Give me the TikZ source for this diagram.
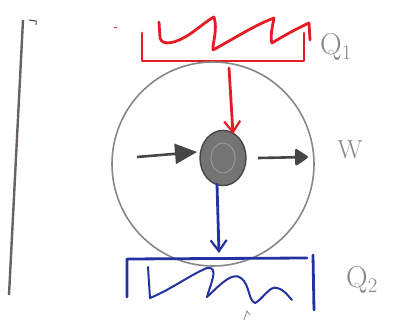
\documentclass[tikz,border=0pt]{standalone}
\usetikzlibrary{arrows.meta}
\definecolor{hotred}{RGB}{228,28,38}
\definecolor{coldblue}{RGB}{35,50,160}
\definecolor{pencil}{RGB}{135,135,135}
\definecolor{darkpencil}{RGB}{70,70,70}
\definecolor{axiscol}{RGB}{105,95,110}
\tikzset{
  hot/.style={draw=hotred, line width=2.8pt, line cap=round, line join=round},
  cold/.style={draw=coldblue, line width=2.8pt, line cap=round, line join=round},
  pencilline/.style={draw=pencil, line width=1.6pt},
  label/.style={text=pencil, font=\fontsize{30}{30}\selectfont, inner sep=0pt},
}
\begin{document}
\begin{tikzpicture}[x=1pt,y=-1pt]
\useasboundingbox (0,0) rectangle (397,332);
% left axis line
\coordinate (axtop) at (23,20);
\coordinate (axbot) at (9,295);
\draw[draw=axiscol, line width=2.4pt] (axtop) -- (axbot);
\draw[darkpencil, line width=1pt] (29,20) -- (36,21) -- (36,25);
% hot reservoir
\draw[hot] (142,33) -- (142,61) -- (304,61) -- (304,33);
\draw[hot] (159,22) -- (160,38) .. controls (162,46) and (175,44) .. (190,34)
  .. controls (200,27) and (208,20) .. (214,17)
  .. controls (218,30) and (212,45) .. (213,50)
  .. controls (235,38) and (255,25) .. (274,18)
  .. controls (272,28) and (270,38) .. (272,43)
  .. controls (285,35) and (298,28) .. (309,23) -- (310,40);
\draw[hotred, line width=1pt] (114,27) -- (117,27);
\node[label] (q1) at (336,47) {Q$_1$};
% circle
\draw[pencilline] (213,164) ellipse [x radius=101, y radius=102];
% central disk
\node[circle, fill=darkpencil!75!white, draw=darkpencil, line width=1.4pt, minimum width=46pt, minimum height=46pt, inner sep=0pt, yscale=1.2] (core) at (223,158) {};
\draw[darkpencil!55!white, line width=1pt] (223,158) ellipse [x radius=12, y radius=15];
% red arrow
\coordinate (redstart) at (229,68);
\draw[hot, -{Straight Barb[length=11pt,width=16pt,line width=2.2pt]}] (redstart) -- (233,134);
% blue arrow
\coordinate (bluestart) at (217,184);
\draw[cold, -{Straight Barb[length=11pt,width=16pt,line width=2.2pt]}] (bluestart) -- (219,253);
% work arrows
\coordinate (win) at (137,157);
\coordinate (wout) at (308,157);
\draw[darkpencil, line width=2.6pt, -{Triangle[length=22pt,width=20pt]}] (win) -- (197,152);
\draw[darkpencil, line width=2.6pt, -{Triangle[round,length=14pt,width=18pt]}] (258,158) -- (wout);
\node[label, font=\fontsize{26}{26}\selectfont] (w) at (350,150) {W};
% cold reservoir
\draw[cold] (127,297) -- (127,259) -- (307,258);
\draw[cold] (313,255) -- (314,310);
\draw[cold, line width=2pt] (148,267) -- (150,298)
  .. controls (170,290) and (190,275) .. (207,268)
  .. controls (220,266) and (210,285) .. (207,297)
  .. controls (215,290) and (232,270) .. (241,278)
  .. controls (250,285) and (248,300) .. (255,303)
  .. controls (262,300) and (270,285) .. (277,288)
  .. controls (285,290) and (288,296) .. (292,300);
\node[label] (q2) at (362,280) {Q$_2$};
% small pencil tick
\draw[pencil, line width=0.8pt] (244,320) -- (247,311) -- (250,315);
\end{tikzpicture}
\end{document}
